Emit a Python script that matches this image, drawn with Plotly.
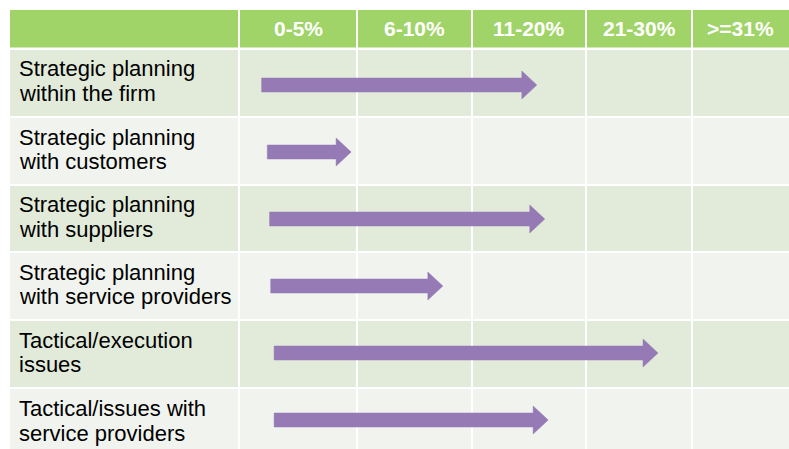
import plotly.graph_objects as go

# ---------------- data ----------------
categories = [
    "Strategic planning\nwithin the firm",
    "Strategic planning\nwith customers",
    "Strategic planning\nwith suppliers",
    "Strategic planning\nwith service providers",
    "Tactical/execution\nissues",
    "Tactical/issues with\nservice providers",
]
columns = ["0-5%", "6-10%", "11-20%", "21-30%", ">=31%"]
# arrow extents, in column widths measured from the left edge of the "0-5%" column
arrow_start = [0.20, 0.25, 0.27, 0.28, 0.31, 0.31]
arrow_end = [2.63, 0.99, 2.70, 1.80, 3.70, 2.73]

# ---------------- layout constants ----------------
W, H = 789, 449
COL_EDGES = [10, 239, 357, 472, 586, 692, 789]          # px
HEADER = (10, 47.5)                                      # px
ROWS = [(50, 116), (118, 184), (186, 251), (253, 319), (321, 387), (389, 455)]
HEADER_COLOR = "#A1D468"
BAND_DARK = "#E2EBDA"
BAND_LIGHT = "#F1F4EE"
ARROW_COLOR = "#957AB5"
FONT = "Arial, Liberation Sans, sans-serif"

COL_PX = 113.25   # px per x unit
ROW_PX = 67.0     # px per y unit
X0_PX = 239       # px of x = 0
Y0_PX = 85        # px of y = 0


def px(x):
    return x / W


def py(y):
    return 1 - y / H


fig = go.Figure()

shapes = []
# header band
shapes.append(dict(type="rect", xref="paper", yref="paper", x0=px(COL_EDGES[0]), x1=px(W + 5),
                   y0=py(HEADER[1]), y1=py(HEADER[0]), fillcolor=HEADER_COLOR, line_width=0, layer="below"))
# body bands
for i, (t, b) in enumerate(ROWS):
    shapes.append(dict(type="rect", xref="paper", yref="paper", x0=px(COL_EDGES[0]), x1=px(W + 5),
                       y0=py(min(b, H + 5)), y1=py(t), fillcolor=BAND_DARK if i % 2 == 0 else BAND_LIGHT,
                       line_width=0, layer="below"))
# vertical white separators
for e in COL_EDGES[1:-1]:
    shapes.append(dict(type="line", xref="paper", yref="paper", x0=px(e), x1=px(e),
                       y0=py(H + 5), y1=py(HEADER[0]), line=dict(color="white", width=2), layer="below"))

fig.update_layout(shapes=shapes)

# arrows
hs = 7 / ROW_PX
hh = 14 / ROW_PX
hl = 15 / COL_PX
for i, (s, e) in enumerate(zip(arrow_start, arrow_end)):
    y = i
    xs = [s, e - hl, e - hl, e, e - hl, e - hl, s, s]
    ys = [y - hs, y - hs, y - hh, y, y + hh, y + hs, y + hs, y - hs]
    fig.add_trace(go.Scatter(x=xs, y=ys, mode="lines", fill="toself", fillcolor=ARROW_COLOR,
                             line=dict(color=ARROW_COLOR, width=0.5), hoverinfo="skip", showlegend=False))

annotations = []
# header texts
for j, c in enumerate(columns):
    cx = (COL_EDGES[j + 1] + COL_EDGES[j + 2]) / 2
    annotations.append(dict(text="<b>%s</b>" % c, xref="paper", yref="paper", x=px(cx), y=py(28.3),
                            xanchor="center", yanchor="middle", showarrow=False,
                            font=dict(family=FONT, size=21, color="white")))
# row labels
for i, lab in enumerate(categories):
    t, b = ROWS[i]
    center = (t + b) / 2 if i < len(ROWS) - 1 else (t + 67 / 2)
    lines = lab.split("\n")
    offs = [-14, 10.5]
    for k, ln in enumerate(lines):
        annotations.append(dict(text=ln, xref="paper", yref="paper", x=px(17), y=py(center + offs[k]),
                                xanchor="left", yanchor="middle", showarrow=False,
                                font=dict(family=FONT, size=22, color="black")))

fig.update_layout(
    annotations=annotations,
    width=W, height=H,
    margin=dict(l=0, r=0, t=0, b=0),
    paper_bgcolor="white", plot_bgcolor="rgba(0,0,0,0)",
    xaxis=dict(range=[-X0_PX / COL_PX, (W - X0_PX) / COL_PX], visible=False, fixedrange=True),
    yaxis=dict(range=[(H - Y0_PX) / ROW_PX, -Y0_PX / ROW_PX], visible=False, fixedrange=True),
    showlegend=False,
)

fig.write_html("out.html", config={"displayModeBar": False},
               post_script="document.body.style.margin='0';document.body.style.overflow='hidden';")
